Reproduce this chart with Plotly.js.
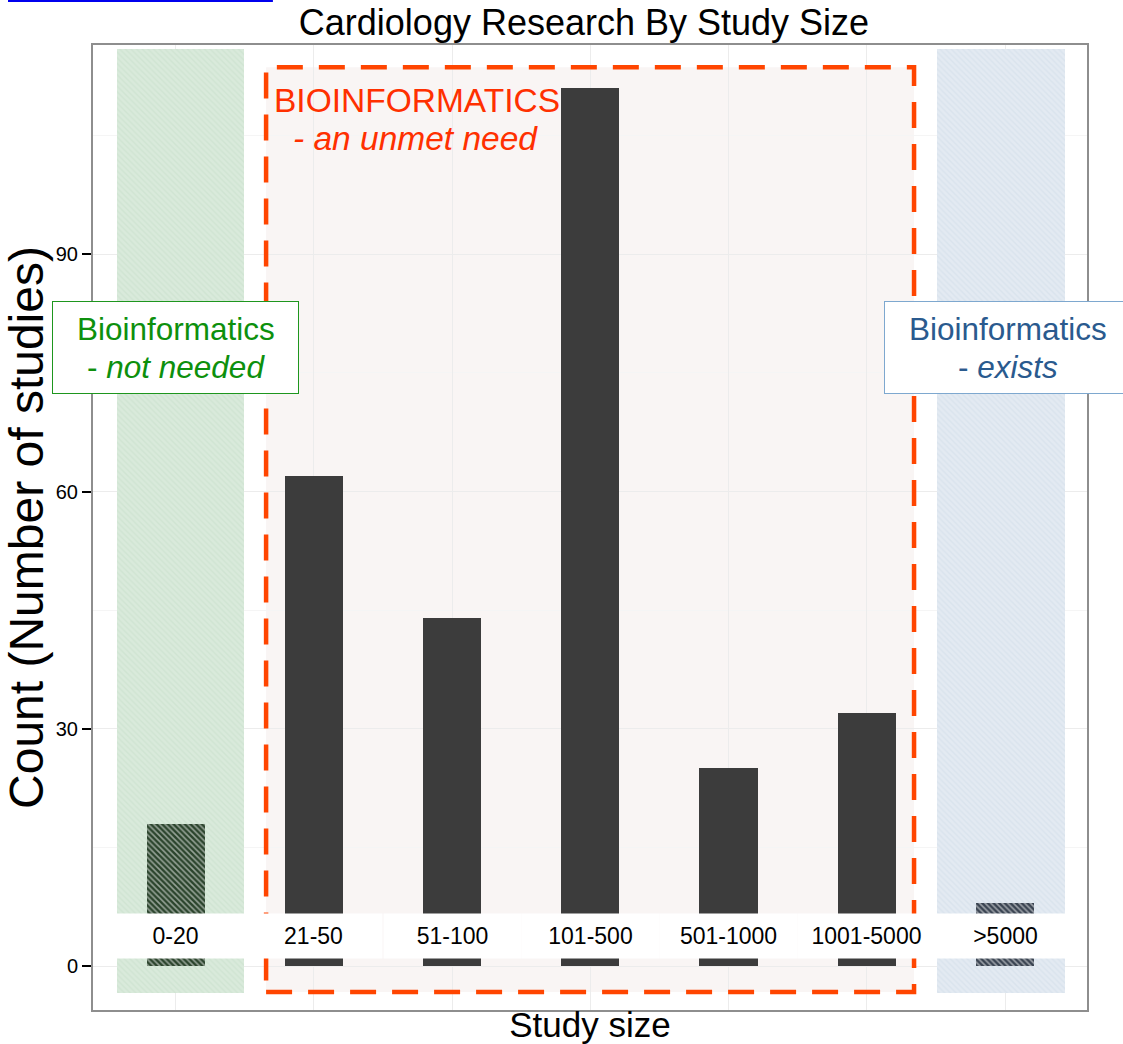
<!DOCTYPE html>
<html><head><meta charset="utf-8">
<script src="https://cdn.plot.ly/plotly-3.0.1.min.js"></script>
<style>html,body{margin:0;padding:0;background:#fff}</style>
</head><body><div id="chart" style="width:1123px;height:1044px"></div>
<script>
// ---- data ----
const categories = ['0-20', '21-50', '51-100', '101-500', '501-1000', '1001-5000', '>5000'];
const counts = [18, 62, 44, 111, 25, 32, 8];
const yTickVals = [0, 30, 60, 90];
const yTickText = ['0', '30', '60', '90'];
const yMinorVals = [15, 45, 75, 105];

// ---- highlighted zones (data coords: xmin, xmax, ymin, ymax) ----
const zoneNotNeeded = [-0.423, 0.495, -3.37, 116.0];
const zoneExists = [5.508, 6.434, -3.37, 116.0];
const zoneUnmet = [0.655, 5.342, -3.29, 113.65];

const FONT = 'Liberation Sans, Arial, Helvetica, sans-serif';
const positions = categories.map((c, i) => i);

function zoneTrace(z, fill, stripe) {
  return {
    type: 'bar', x: [(z[0] + z[1]) / 2], y: [z[3] - z[2]], base: [z[2]],
    width: [z[1] - z[0]], hoverinfo: 'skip', showlegend: false,
    marker: {color: fill, line: {width: 0},
      pattern: {shape: '\\', fgcolor: stripe, bgcolor: fill, size: 4, solidity: 0.35, fillmode: 'overlay'}}
  };
}

const last = categories.length - 1;
const barColors = categories.map((c, i) => i === 0 ? '#2a442c' : (i === last ? '#394351' : '#3c3c3c'));
const barShapes = categories.map((c, i) => (i === 0 || i === last) ? '\\' : '');
const barStripes = categories.map((c, i) => i === 0 ? '#223824' : (i === last ? '#2f3742' : '#3c3c3c'));

const traces = [
  zoneTrace(zoneNotNeeded, '#d9eadb', '#c6ddc9'),
  zoneTrace(zoneExists, '#e3eaf2', '#d0dbe7'),
  {
    type: 'bar', x: positions, y: counts, width: 0.42, showlegend: false,
    hovertext: categories, hoverinfo: 'text+y',
    marker: {color: barColors, line: {width: 0},
      pattern: {shape: barShapes, fgcolor: barStripes, bgcolor: barColors, size: 4, solidity: 0.4, fillmode: 'overlay'}}
  }
];

const annotations = categories.map((c, i) => ({
  x: i, y: 3.79, xref: 'x', yref: 'y', text: c, showarrow: false,
  bgcolor: '#ffffff', width: 137, height: 44, borderpad: 0,
  font: {family: FONT, size: 23, color: '#000000'}
}));

function textLine(x, y, text, size, color) {
  return {x: x, y: y, xref: 'x', yref: 'y', text: text, showarrow: false,
          xanchor: 'center', yanchor: 'middle', font: {family: FONT, size: size, color: color}};
}
function box(x, y, w, h, border) {
  return {x: x, y: y, xref: 'x', yref: 'y', text: ' ', showarrow: false,
          bgcolor: '#ffffff', bordercolor: border, borderwidth: 1, borderpad: 0,
          width: w, height: h, font: {family: FONT, size: 10}};
}

// red "unmet need" label
annotations.push(textLine(1.745, 109.4, 'BIOINFORMATICS', 33.5, '#ff3000'));
annotations.push(textLine(1.738, 104.7, '<i>- an unmet need</i>', 33.5, '#ff3000'));
// green box
annotations.push(box(0, 78.2, 245, 91, '#1e961e'));
annotations.push(textLine(0, 80.5, 'Bioinformatics', 31.5, '#0d900d'));
annotations.push(textLine(0, 75.8, '- <i>not needed</i>', 31.5, '#0d900d'));
// blue box
annotations.push(box(6.02, 78.2, 246, 91, '#7ea8cf'));
annotations.push(textLine(6.02, 80.5, 'Bioinformatics', 31.5, '#2a5a8e'));
annotations.push(textLine(6.02, 75.8, '- <i>exists</i>', 31.5, '#2a5a8e'));

const shapes = [
  {type: 'rect', xref: 'x', yref: 'y', layer: 'below',
   x0: zoneUnmet[0], x1: zoneUnmet[1], y0: zoneUnmet[2], y1: zoneUnmet[3],
   fillcolor: '#f9f5f4', line: {width: 0}},
  {type: 'rect', xref: 'x', yref: 'y', layer: 'above',
   x0: zoneUnmet[0], x1: zoneUnmet[1], y0: zoneUnmet[2], y1: zoneUnmet[3],
   fillcolor: 'rgba(0,0,0,0)', line: {color: '#ff4500', width: 4.5, dash: '26px,16px'}},
  {type: 'line', xref: 'paper', yref: 'paper', x0: -0.0855, x1: 0.181, y0: 1.0456, y1: 1.0456,
   line: {color: '#0000ee', width: 2}}
];

const layout = {
  width: 1123, height: 1044,
  margin: {l: 93, r: 36, t: 45, b: 34},
  paper_bgcolor: '#ffffff', plot_bgcolor: '#ffffff',
  barmode: 'overlay', bargap: 0,
  showlegend: false,
  font: {family: FONT, color: '#000000'},
  title: {text: 'Cardiology Research By Study Size', x: 0.52, xanchor: 'center',
          y: 0.979, yref: 'container', yanchor: 'middle',
          font: {family: FONT, size: 36, color: '#000000'}},
  xaxis: {range: [-0.597, 6.593], tickvals: positions, showticklabels: false, ticks: '',
          showgrid: true, gridcolor: '#ececec', gridwidth: 1, zeroline: false,
          showline: true, mirror: true, linecolor: '#8e8e8e', linewidth: 2,
          title: {text: 'Study size', standoff: 2, font: {family: FONT, size: 35, color: '#000000'}}},
  yaxis: {range: [-5.56, 116.46], tickvals: yTickVals, ticktext: yTickText,
          ticks: 'outside', ticklen: 9, tickwidth: 2, tickcolor: '#000000',
          tickfont: {family: FONT, size: 20, color: '#000000'},
          showgrid: true, gridcolor: '#ececec', gridwidth: 1, zeroline: false,
          minor: {tickvals: yMinorVals, showgrid: true, gridcolor: '#f5f5f5', gridwidth: 1, ticks: ''},
          showline: true, mirror: true, linecolor: '#8e8e8e', linewidth: 2,
          title: {text: 'Count (Number of studies)', standoff: 0, font: {family: FONT, size: 48, color: '#000000'}}},
  shapes: shapes,
  annotations: annotations
};

Plotly.newPlot('chart', traces, layout, {displayModeBar: false, staticPlot: true});
</script>
</body></html>
